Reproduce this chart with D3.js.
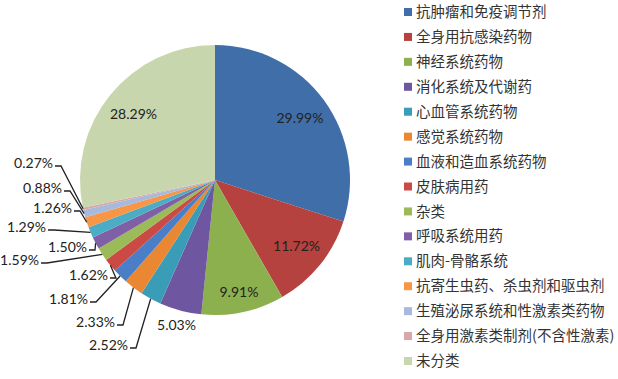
<!DOCTYPE html>
<html>
<head>
<meta charset="utf-8">
<script src="https://cdn.jsdelivr.net/npm/d3@7/dist/d3.min.js"></script>
<style>
  body { margin: 0; background: #fff; }
</style>
</head>
<body>
<div id="chart"></div>
<script>
// categories and shares (%), clockwise from 12 o'clock
var categories = ["抗肿瘤和免疫调节剂", "全身用抗感染药物", "神经系统药物", "消化系统及代谢药",
  "心血管系统药物", "感觉系统药物", "血液和造血系统药物", "皮肤病用药", "杂类", "呼吸系统用药",
  "肌肉-骨骼系统", "抗寄生虫药、杀虫剂和驱虫剂", "生殖泌尿系统和性激素类药物",
  "全身用激素类制剂(不含性激素)", "未分类"];
var shares = [29.99, 11.72, 9.91, 5.03, 2.52, 2.33, 1.81, 1.62, 1.59, 1.50, 1.29, 1.26, 0.88, 0.27, 28.29];
var labels = ["29.99%", "11.72%", "9.91%", "5.03%", "2.52%", "2.33%", "1.81%", "1.62%", "1.59%",
  "1.50%", "1.29%", "1.26%", "0.88%", "0.27%", "28.29%"];

var colors = ["#3f6ea8", "#b5423f", "#8db04f", "#6f56a0", "#3a9db7", "#ea8733", "#4a7fc8",
  "#cc4a46", "#9bbb59", "#7f5fa5", "#4bacc6", "#f79646", "#a7b9dc", "#d9a7aa", "#c8d6ae"];

// label layout: inside labels by radius, small ones by [right edge dx, center dy] from pie centre
var insideRadius = { 0: 105, 1: 105, 2: 115, 3: 150, 14: 105 };
var outsideLabels = {
  4: [-87, 165], 5: [-100, 142], 6: [-127, 119], 7: [-107, 95], 8: [-176, 80],
  9: [-128, 67], 10: [-169, 47], 11: [-143, 28], 12: [-153, 8], 13: [-162, -17]
};

var width = 618, height = 379;
var cx = 215, cy = 180, radius = 135;
var labelFont = "Lato, 'Open Sans', sans-serif";

var svg = d3.select("#chart")
  .append("svg")
  .attr("width", width)
  .attr("height", height);

var g = svg.append("g")
  .attr("transform", "translate(" + cx + "," + cy + ")");

var pie = d3.pie().sort(null).value(function(d) { return d; });
var arcs = pie(shares);

var arc = d3.arc().innerRadius(0).outerRadius(radius);

g.selectAll("path.slice")
  .data(arcs)
  .enter()
  .append("path")
  .attr("class", "slice")
  .attr("d", arc)
  .attr("fill", function(d, i) { return colors[i]; });

// labels on / near the big slices
arcs.forEach(function(d, i) {
  if (insideRadius[i] === undefined) return;
  var a = (d.startAngle + d.endAngle) / 2;
  var r = insideRadius[i];
  g.append("text")
    .attr("x", r * Math.sin(a))
    .attr("y", -r * Math.cos(a))
    .attr("dy", "0.35em")
    .attr("text-anchor", "middle")
    .style("font-family", labelFont)
    .style("font-size", "14px")
    .attr("fill", "#222")
    .text(labels[i]);
});

// small slices: labels with leader lines
arcs.forEach(function(d, i) {
  var pos = outsideLabels[i];
  if (!pos) return;
  var a = (d.startAngle + d.endAngle) / 2;
  var ax = radius * Math.sin(a), ay = -radius * Math.cos(a);
  var lx = pos[0], ly = pos[1];
  var pts = [[lx + 2, ly + 3], [lx + 8, ly + 3], [ax, ay]];
  g.append("path")
    .attr("d", d3.line()(pts))
    .attr("fill", "none")
    .attr("stroke", "#222")
    .attr("stroke-width", 1.3);
  g.append("text")
    .attr("x", lx)
    .attr("y", ly)
    .attr("dy", "0.35em")
    .attr("text-anchor", "end")
    .style("font-family", labelFont)
    .style("font-size", "14px")
    .attr("fill", "#222")
    .text(labels[i]);
});

// legend
var legend = svg.append("g")
  .attr("transform", "translate(404,12)");

var y = d3.scalePoint()
  .domain(categories)
  .range([0, 349]);

var item = legend.selectAll("g.item")
  .data(categories)
  .enter()
  .append("g")
  .attr("class", "item")
  .attr("transform", function(d) { return "translate(0," + y(d) + ")"; });

item.append("rect")
  .attr("x", 0)
  .attr("y", -4)
  .attr("width", 8)
  .attr("height", 8)
  .attr("fill", function(d, i) { return colors[i]; });

item.append("text")
  .attr("x", 12)
  .attr("y", 0)
  .attr("dy", "0.35em")
  .style("font-family", "'Noto Sans CJK SC', sans-serif")
  .style("font-size", "14.5px")
  .attr("fill", "#333")
  .text(function(d) { return d; });
</script>
</body>
</html>
